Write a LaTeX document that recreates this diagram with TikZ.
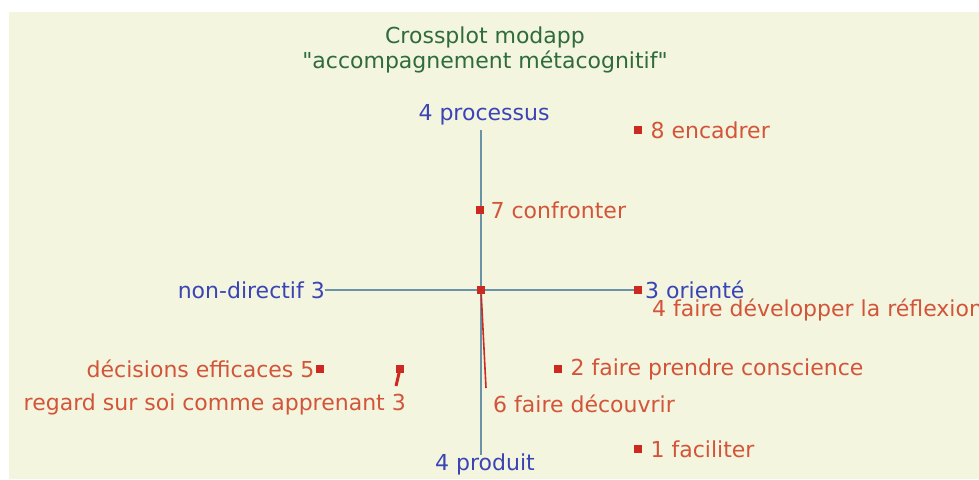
\documentclass[tikz,border=0pt]{standalone}
\usepackage{fontspec}
\setmainfont{DejaVu Sans}
\usetikzlibrary{positioning}
\definecolor{paper}{HTML}{F3F5DF}
\definecolor{titlegreen}{HTML}{2F6B3B}
\definecolor{axisblue}{HTML}{3B44B5}
\definecolor{axisline}{HTML}{6A93A8}
\definecolor{ptred}{HTML}{CC2A20}
\definecolor{lblred}{HTML}{D2553A}

\begin{document}
\begin{tikzpicture}[x=1pt, y=-1pt,
    dot/.style={fill=ptred, inner sep=0pt, minimum size=8.5pt},
    lbl/.style={text=lblred, inner sep=0pt, font=\fontsize{22}{25}\selectfont},
    axlbl/.style={text=axisblue, inner sep=0pt, font=\fontsize{22}{25}\selectfont},
    titletext/.style={text=titlegreen, align=center, font=\fontsize{22}{25}\selectfont}]

    % Page
    \fill[white] (0,0) rectangle (979,479);
    \fill[paper] (9,12) rectangle (979,479);
    \useasboundingbox (0,0) rectangle (979,479);

    % Title
    \node[titletext] (title) at (485,50) {Crossplot modapp\\\textquotedbl accompagnement métacognitif\textquotedbl};

    % Axes
    \coordinate (top) at (481,130);
    \coordinate (bot) at (481,455);
    \coordinate (left) at (325,290);
    \node[dot] (p3) at (638,290) {};
    \draw[axisline, line width=1.3pt] (top) -- (bot);
    \draw[axisline, line width=1.3pt] (left) -- (p3);

    % Axis labels
    \node[axlbl] (processus) at (484,115) {4 processus};
    \node[axlbl] (produit) at (485,464) {4 produit};
    \node[axlbl, anchor=east] (nondir) at (left) {non-directif 3};
    \node[axlbl, anchor=west] (oriente) at (645,290) {3 orienté};

    % Points
    \node[dot] (p0) at (481,290) {};
    \node[dot] (p7) at (480,210) {};
    \node[dot] (p8) at (638,130) {};
    \node[dot] (p2) at (558,369) {};
    \node[dot] (p1) at (638,449) {};
    \node[dot] (p5) at (320,369) {};
    \node[dot] (pr) at (400,369) {};
    \coordinate (prtail) at (396,386);
    \coordinate (p6) at (486,388);
    \draw[ptred, line width=1.6pt] (p0) -- (p6);
    \draw[ptred, line width=3pt] (pr.center) -- (prtail);

    % Point labels
    \node[lbl, right=6pt of p7] (l7) {7 confronter};
    \node[lbl, right=8pt of p8] (l8) {8 encadrer};
    \node[lbl, right=8pt of p2] (l2) {2 faire prendre conscience};
    \node[lbl, right=8pt of p1] (l1) {1 faciliter};
    \node[lbl, left=1pt of p5] (l5) {décisions efficaces 5};
    \node[lbl, anchor=west] (l4) at (652,310) {4 faire développer la réflexion};
    \node[lbl, anchor=west] (l6) at (493,404) {6 faire découvrir};
    \node[lbl, anchor=east] (lr) at (406,404) {regard sur soi comme apprenant 3};

\end{tikzpicture}
\end{document}
